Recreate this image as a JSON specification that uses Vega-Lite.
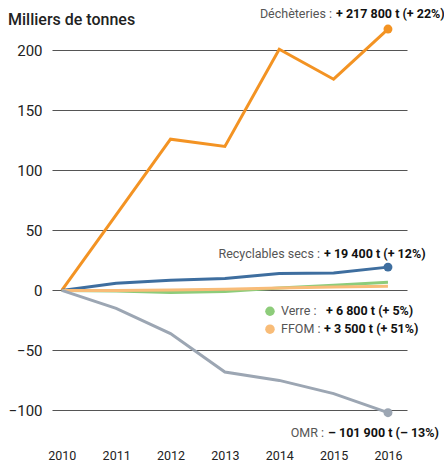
{
  "$schema": "https://vega.github.io/schema/vega-lite/v6.json",
  "autosize": "none",
  "width": 355,
  "height": 408,
  "padding": {"left": 52, "top": 24, "right": 37, "bottom": 29},
  "background": "white",
  "config": {
    "font": "Roboto, sans-serif",
    "view": {"stroke": null}
  },
  "title": {
    "text": "Milliers de tonnes",
    "anchor": "start",
    "frame": "group",
    "dx": -44,
    "offset": -20,
    "fontSize": 16,
    "fontWeight": 500,
    "color": "#222"
  },
  "datasets": {
    "series": [
      {"series": "Déchèteries", "year": 2010, "value": 0},
      {"series": "Déchèteries", "year": 2011, "value": 63},
      {"series": "Déchèteries", "year": 2012, "value": 126},
      {"series": "Déchèteries", "year": 2013, "value": 120},
      {"series": "Déchèteries", "year": 2014, "value": 201},
      {"series": "Déchèteries", "year": 2015, "value": 176},
      {"series": "Déchèteries", "year": 2016, "value": 217.8},
      {"series": "Recyclables secs", "year": 2010, "value": 0},
      {"series": "Recyclables secs", "year": 2011, "value": 6},
      {"series": "Recyclables secs", "year": 2012, "value": 8.5},
      {"series": "Recyclables secs", "year": 2013, "value": 10},
      {"series": "Recyclables secs", "year": 2014, "value": 14},
      {"series": "Recyclables secs", "year": 2015, "value": 14.5},
      {"series": "Recyclables secs", "year": 2016, "value": 19.4},
      {"series": "Verre", "year": 2010, "value": 0},
      {"series": "Verre", "year": 2011, "value": -0.5},
      {"series": "Verre", "year": 2012, "value": -1.8},
      {"series": "Verre", "year": 2013, "value": -1},
      {"series": "Verre", "year": 2014, "value": 2},
      {"series": "Verre", "year": 2015, "value": 4.2},
      {"series": "Verre", "year": 2016, "value": 6.8},
      {"series": "FFOM", "year": 2010, "value": 0},
      {"series": "FFOM", "year": 2011, "value": 0},
      {"series": "FFOM", "year": 2012, "value": 0.3},
      {"series": "FFOM", "year": 2013, "value": 1},
      {"series": "FFOM", "year": 2014, "value": 2},
      {"series": "FFOM", "year": 2015, "value": 2.8},
      {"series": "FFOM", "year": 2016, "value": 3.5},
      {"series": "OMR", "year": 2010, "value": 0},
      {"series": "OMR", "year": 2011, "value": -15},
      {"series": "OMR", "year": 2012, "value": -36},
      {"series": "OMR", "year": 2013, "value": -68},
      {"series": "OMR", "year": 2014, "value": -75},
      {"series": "OMR", "year": 2015, "value": -86},
      {"series": "OMR", "year": 2016, "value": -101.9}
    ],
    "notes": [
      {"series": "Déchèteries", "year": 2016, "value": 217.8, "name": "Déchèteries :", "change": "+ 217 800 t (+ 22%)"},
      {"series": "Recyclables secs", "year": 2016, "value": 19.4, "name": "Recyclables secs :", "change": "+ 19 400 t (+ 12%)"},
      {"series": "Verre", "year": 2016, "value": 6.8, "name": "Verre :", "change": "+ 6 800 t (+ 5%)"},
      {"series": "FFOM", "year": 2016, "value": 3.5, "name": "FFOM :", "change": "+ 3 500 t (+ 51%)"},
      {"series": "OMR", "year": 2016, "value": -101.9, "name": "OMR :", "change": "– 101 900 t (– 13%)"}
    ]
  },
  "encoding": {
    "x": {
      "field": "year", "type": "quantitative",
      "scale": {"domain": [2009.82, 2016.35], "nice": false, "zero": false},
      "axis": {
        "values": [2010, 2011, 2012, 2013, 2014, 2015, 2016],
        "format": "d", "title": null, "grid": false, "domain": false, "ticks": false,
        "labelFontSize": 12.5, "labelColor": "#222", "labelPadding": 27, "labelBaseline": "alphabetic"
      }
    },
    "y": {
      "field": "value", "type": "quantitative",
      "scale": {"domain": [-118, 222], "nice": false, "zero": false},
      "axis": {
        "values": [-100, -50, 0, 50, 100, 150, 200],
        "title": null, "grid": true, "gridColor": "#555", "gridWidth": 1.2,
        "domain": false, "ticks": false,
        "labelFontSize": 15, "labelColor": "#222", "labelPadding": 10
      }
    },
    "color": {
      "field": "series", "type": "nominal", "legend": null,
      "scale": {
        "domain": ["Déchèteries", "Recyclables secs", "Verre", "FFOM", "OMR"],
        "range": ["#F39323", "#3E6E9F", "#8DCC7A", "#F8BC78", "#9CA6B3"]
      }
    }
  },
  "layer": [
    {
      "data": {"name": "series"},
      "mark": {"type": "line", "strokeWidth": 3},
      "encoding": {
        "order": {"field": "year"}
      }
    },
    {
      "data": {"name": "notes"},
      "transform": [{"filter": "datum.series == 'Déchèteries' || datum.series == 'Recyclables secs' || datum.series == 'OMR'"}],
      "mark": {"type": "circle", "size": 80, "opacity": 1}
    },
    {
      "data": {"name": "notes"},
      "transform": [{"filter": "datum.series == 'Verre'"}],
      "mark": {"type": "circle", "size": 90, "opacity": 1, "xOffset": -118, "yOffset": 29}
    },
    {
      "data": {"name": "notes"},
      "transform": [{"filter": "datum.series == 'FFOM'"}],
      "mark": {"type": "circle", "size": 90, "opacity": 1, "xOffset": -118, "yOffset": 43}
    },
    {
      "data": {"name": "notes"},
      "transform": [{"filter": "datum.series == 'Déchèteries'"}],
      "mark": {"type": "text", "align": "right", "baseline": "middle", "dx": -56, "dy": -15, "fontSize": 12.5},
      "encoding": {"text": {"field": "name"}, "color": {"value": "#555"}}
    },
    {
      "data": {"name": "notes"},
      "transform": [{"filter": "datum.series == 'Déchèteries'"}],
      "mark": {"type": "text", "align": "left", "baseline": "middle", "dx": -52, "dy": -15, "fontSize": 12.5, "fontWeight": "bold"},
      "encoding": {"text": {"field": "change"}, "color": {"value": "#111"}}
    },
    {
      "data": {"name": "notes"},
      "transform": [{"filter": "datum.series == 'Recyclables secs'"}],
      "mark": {"type": "text", "align": "right", "baseline": "middle", "dx": -68, "dy": -13, "fontSize": 12.5},
      "encoding": {"text": {"field": "name"}, "color": {"value": "#555"}}
    },
    {
      "data": {"name": "notes"},
      "transform": [{"filter": "datum.series == 'Recyclables secs'"}],
      "mark": {"type": "text", "align": "left", "baseline": "middle", "dx": -64, "dy": -13, "fontSize": 12.5, "fontWeight": "bold"},
      "encoding": {"text": {"field": "change"}, "color": {"value": "#111"}}
    },
    {
      "data": {"name": "notes"},
      "transform": [{"filter": "datum.series == 'Verre'"}],
      "mark": {"type": "text", "align": "left", "baseline": "middle", "dx": -107, "dy": 29, "fontSize": 12.5},
      "encoding": {"text": {"field": "name"}, "color": {"value": "#555"}}
    },
    {
      "data": {"name": "notes"},
      "transform": [{"filter": "datum.series == 'Verre'"}],
      "mark": {"type": "text", "align": "left", "baseline": "middle", "dx": -62, "dy": 29, "fontSize": 12.5, "fontWeight": "bold"},
      "encoding": {"text": {"field": "change"}, "color": {"value": "#111"}}
    },
    {
      "data": {"name": "notes"},
      "transform": [{"filter": "datum.series == 'FFOM'"}],
      "mark": {"type": "text", "align": "left", "baseline": "middle", "dx": -107, "dy": 43, "fontSize": 12.5},
      "encoding": {"text": {"field": "name"}, "color": {"value": "#555"}}
    },
    {
      "data": {"name": "notes"},
      "transform": [{"filter": "datum.series == 'FFOM'"}],
      "mark": {"type": "text", "align": "left", "baseline": "middle", "dx": -64, "dy": 43, "fontSize": 12.5, "fontWeight": "bold"},
      "encoding": {"text": {"field": "change"}, "color": {"value": "#111"}}
    },
    {
      "data": {"name": "notes"},
      "transform": [{"filter": "datum.series == 'OMR'"}],
      "mark": {"type": "text", "align": "right", "baseline": "middle", "dx": -64, "dy": 20, "fontSize": 12.5},
      "encoding": {"text": {"field": "name"}, "color": {"value": "#555"}}
    },
    {
      "data": {"name": "notes"},
      "transform": [{"filter": "datum.series == 'OMR'"}],
      "mark": {"type": "text", "align": "left", "baseline": "middle", "dx": -60, "dy": 20, "fontSize": 12.5, "fontWeight": "bold"},
      "encoding": {"text": {"field": "change"}, "color": {"value": "#111"}}
    }
  ]
}
